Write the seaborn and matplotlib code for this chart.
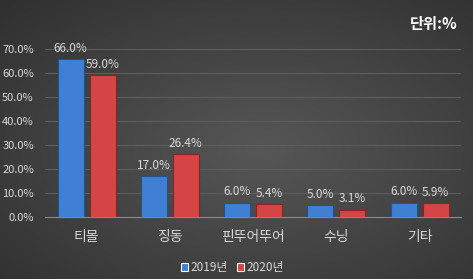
import numpy as np
import pandas as pd
import matplotlib
matplotlib.use("Agg")
import matplotlib.pyplot as plt
import seaborn as sns

categories = ["티몰", "징동", "핀뚜어뚜어", "수닝", "기타"]
years = ["2019년", "2020년"]
values_2019 = [66.0, 17.0, 6.0, 5.0, 6.0]
values_2020 = [59.0, 26.4, 5.4, 3.1, 5.9]
yticks = [0, 10, 20, 30, 40, 50, 60, 70]

df = pd.DataFrame({
    "category": categories * 2,
    "year": [years[0]] * len(categories) + [years[1]] * len(categories),
    "value": values_2019 + values_2020,
})

sns.set_theme(style="dark")
plt.rcParams['font.family'] = ['Noto Sans CJK KR', 'DejaVu Sans']

fig = plt.figure(figsize=(4.73, 2.79), dpi=100)
# background radial gradient
bg = fig.add_axes([0, 0, 1, 1], zorder=-10)
yy, xx = np.mgrid[0:279, 0:473]
r = np.sqrt(((xx - 260) / 473) ** 2 + ((yy - 150) / 279) ** 2)
shade = np.clip(0.34 - 0.2 * r, 0.18, 0.35)
bg.imshow(np.dstack([shade, shade, shade]), aspect="auto", extent=[0, 1, 0, 1])
bg.axis("off")

ax = fig.add_axes([0.095, 0.222, 0.88, 0.602])
ax.set_facecolor("none")
palette = {"2019년": "#3f7fd4", "2020년": "#d64545"}
sns.barplot(data=df, x="category", y="value", hue="year", order=categories,
            hue_order=years, palette=palette, width=0.77, gap=0.19, saturation=1,
            linewidth=0.8, ax=ax, legend=True, zorder=3)
for i, cont in enumerate(ax.containers):
    ec = "#25528f" if i == 0 else "#8a2525"
    for p in cont:
        p.set_edgecolor(ec)
    ax.bar_label(cont, labels=[f"{v:.1f}%" for v in cont.datavalues],
                 padding=3, color="#d9d9d9", fontsize=8.5)

ax.set_ylim(0, 70)
ax.set_yticks(yticks)
ax.set_yticklabels([f"{t:.1f}%" for t in yticks], color="#d9d9d9", fontsize=8)
ax.set_xlim(-0.5, 4.5)
ax.tick_params(axis="x", colors="#d9d9d9", labelsize=10, length=0, pad=9)
ax.tick_params(axis="y", length=0, pad=8)
ax.set_xlabel("")
ax.set_ylabel("")
ax.grid(axis="y", color="#5e5e5e", linewidth=0.8, zorder=0)
ax.grid(axis="x", visible=False)
for s in ["top", "right", "left"]:
    ax.spines[s].set_visible(False)
ax.spines["bottom"].set_color("#8a8a8a")
ax.spines["bottom"].set_linewidth(0.8)
ax.spines["bottom"].set_zorder(4)

leg = ax.legend(loc="upper center", bbox_to_anchor=(0.45, -0.2), ncol=2,
                frameon=False, fontsize=8.5, handlelength=0.6, handleheight=0.6,
                handletextpad=0.2, columnspacing=0.8)
for t in leg.get_texts():
    t.set_color("#d9d9d9")

fig.text(0.968, 0.915, "단위:%", ha="right", va="center", color="white",
         fontsize=11, fontweight="bold")

fig.savefig("out.png", dpi=100)
